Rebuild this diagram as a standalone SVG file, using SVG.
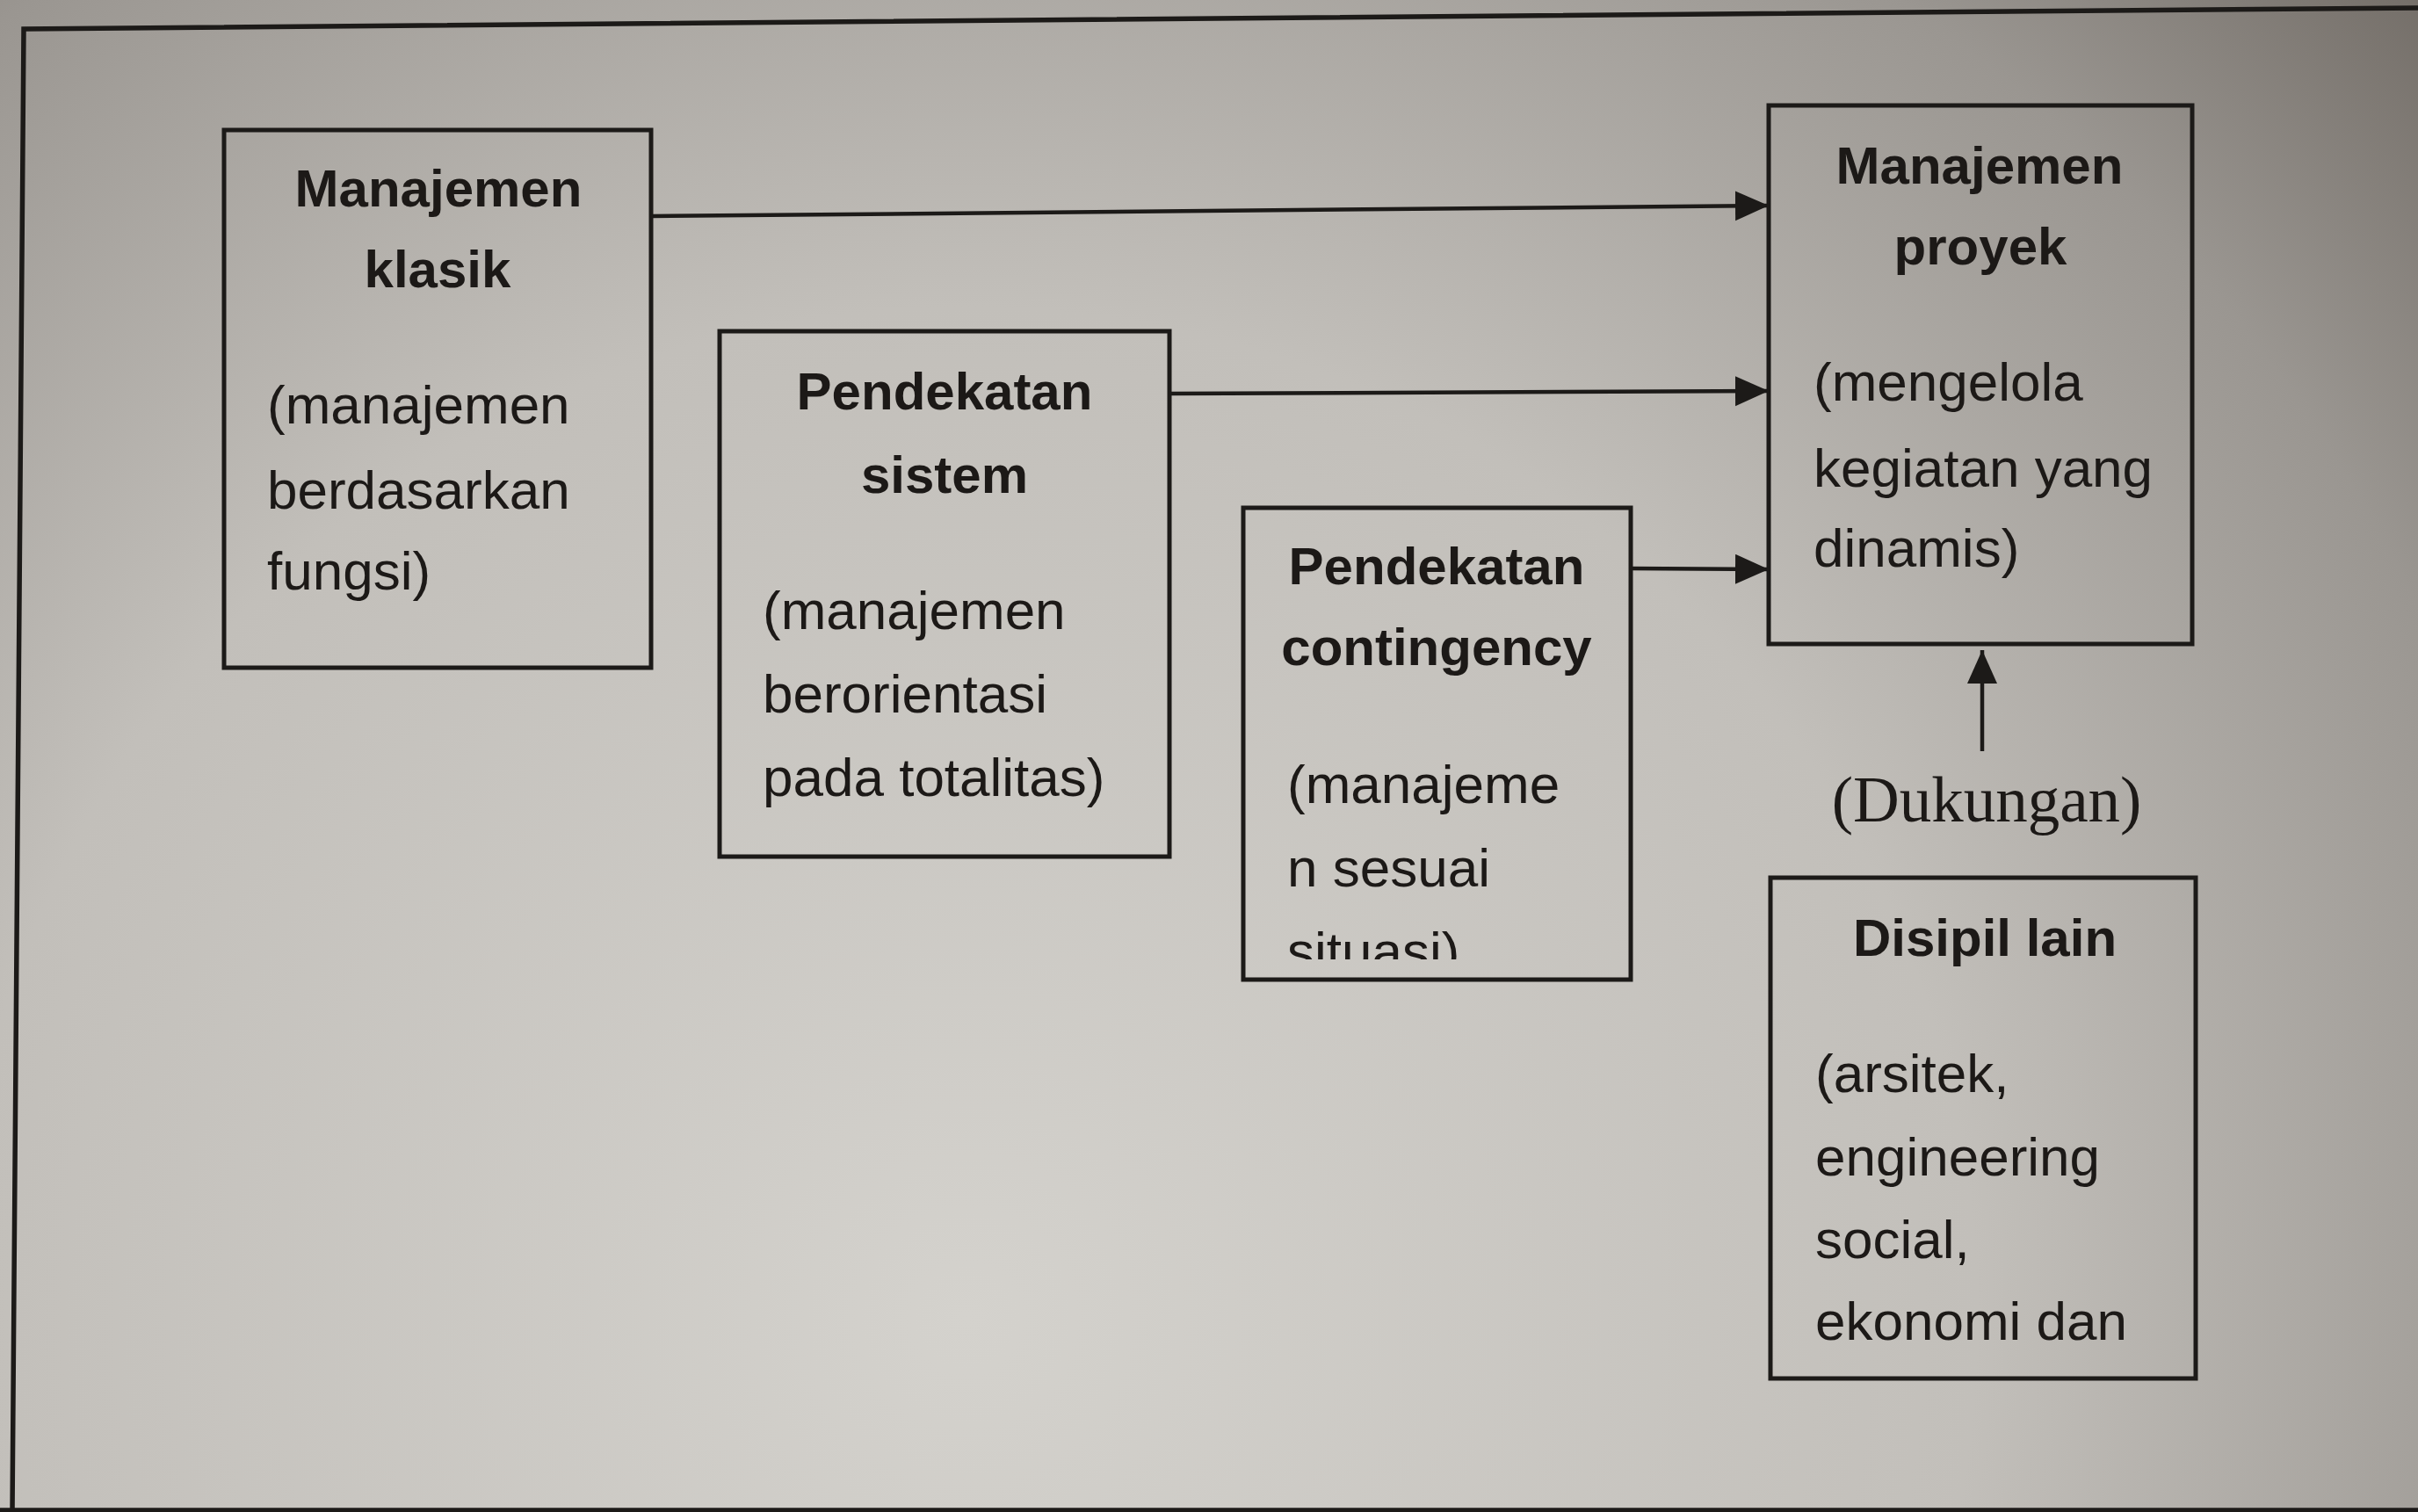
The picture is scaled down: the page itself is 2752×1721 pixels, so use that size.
<svg xmlns="http://www.w3.org/2000/svg" width="2752" height="1721" viewBox="0 0 2752 1721">
<defs>
<radialGradient id="paper" gradientUnits="userSpaceOnUse" cx="1100" cy="1500" r="2300">
<stop offset="0" stop-color="#d4d2cd"/>
<stop offset="0.5" stop-color="#c2bfba"/>
<stop offset="0.8" stop-color="#9a9691"/>
<stop offset="1" stop-color="#6e6862"/>
</radialGradient>
<marker id="arr" markerUnits="userSpaceOnUse" markerWidth="40" markerHeight="36" refX="38" refY="17" orient="auto">
<path d="M0,0 L38,17 L0,34 z" fill="#1c1a18"/>
</marker>
<clipPath id="clip3"><rect x="1418" y="581" width="435" height="511"/></clipPath>
<style>
.box{fill:none;stroke:#1c1a18;stroke-width:5}
.frame{fill:none;stroke:#1c1a18;stroke-width:5.5}
.con{fill:none;stroke:#1c1a18;stroke-width:4.5}
.t{font-family:"Liberation Sans",Arial,sans-serif;fill:#1c1917}
.h{font-size:60px;font-weight:bold;text-anchor:middle}
.b{font-size:62px}
.lbl{font-family:"Liberation Serif","Times New Roman",serif;font-size:73px;fill:#1c1917;text-anchor:middle}
</style>
</defs>
<rect width="2752" height="1721" fill="url(#paper)"/>
<polyline class="frame" points="2752,9 27,33 14,1721"/>
<line class="frame" x1="0" y1="1719" x2="2752" y2="1719"/>

<g id="connectors">
<line class="con" x1="742" y1="246" x2="2013" y2="234" marker-end="url(#arr)"/>
<line class="con" x1="1332" y1="448" x2="2013" y2="445" marker-end="url(#arr)"/>
<line class="con" x1="1856" y1="647" x2="2013" y2="648" marker-end="url(#arr)"/>
<line class="con" x1="2256" y1="855" x2="2256" y2="740" marker-end="url(#arr)"/>
<text class="lbl" x="2261" y="935">(Dukungan)</text>
</g>

<g id="manajemen-klasik">
<rect class="box" x="255" y="148" width="486" height="612"/>
<text class="t h" x="499" y="235">Manajemen</text>
<text class="t h" x="498" y="327">klasik</text>
<text class="t b" x="304" y="482">(manajemen</text>
<text class="t b" x="304" y="579">berdasarkan</text>
<text class="t b" x="304" y="671">fungsi)</text>
</g>

<g id="pendekatan-sistem">
<rect class="box" x="819" y="377" width="512" height="598"/>
<text class="t h" x="1075" y="466">Pendekatan</text>
<text class="t h" x="1075" y="561">sistem</text>
<text class="t b" x="868" y="716">(manajemen</text>
<text class="t b" x="868" y="811">berorientasi</text>
<text class="t b" x="868" y="906">pada totalitas)</text>
</g>

<g id="pendekatan-contingency">
<rect class="box" x="1415" y="578" width="441" height="537"/>
<text class="t h" x="1635" y="665">Pendekatan</text>
<text class="t h" x="1635" y="757">contingency</text>
<text class="t b" x="1465" y="914">(manajeme</text>
<text class="t b" x="1465" y="1009">n sesuai</text>
<text class="t b" x="1465" y="1104" clip-path="url(#clip3)">situasi)</text>
</g>

<g id="manajemen-proyek">
<rect class="box" x="2013" y="120" width="482" height="613"/>
<text class="t h" x="2253" y="209">Manajemen</text>
<text class="t h" x="2254" y="301">proyek</text>
<text class="t b" x="2064" y="456">(mengelola</text>
<text class="t b" x="2064" y="554">kegiatan yang</text>
<text class="t b" x="2064" y="645">dinamis)</text>
</g>

<g id="disipil-lain">
<rect class="box" x="2015" y="999" width="484" height="570"/>
<text class="t h" x="2259" y="1088">Disipil lain</text>
<text class="t b" x="2066" y="1243">(arsitek,</text>
<text class="t b" x="2066" y="1338">engineering</text>
<text class="t b" x="2066" y="1432">social,</text>
<text class="t b" x="2066" y="1525">ekonomi dan</text>
</g>
</svg>
